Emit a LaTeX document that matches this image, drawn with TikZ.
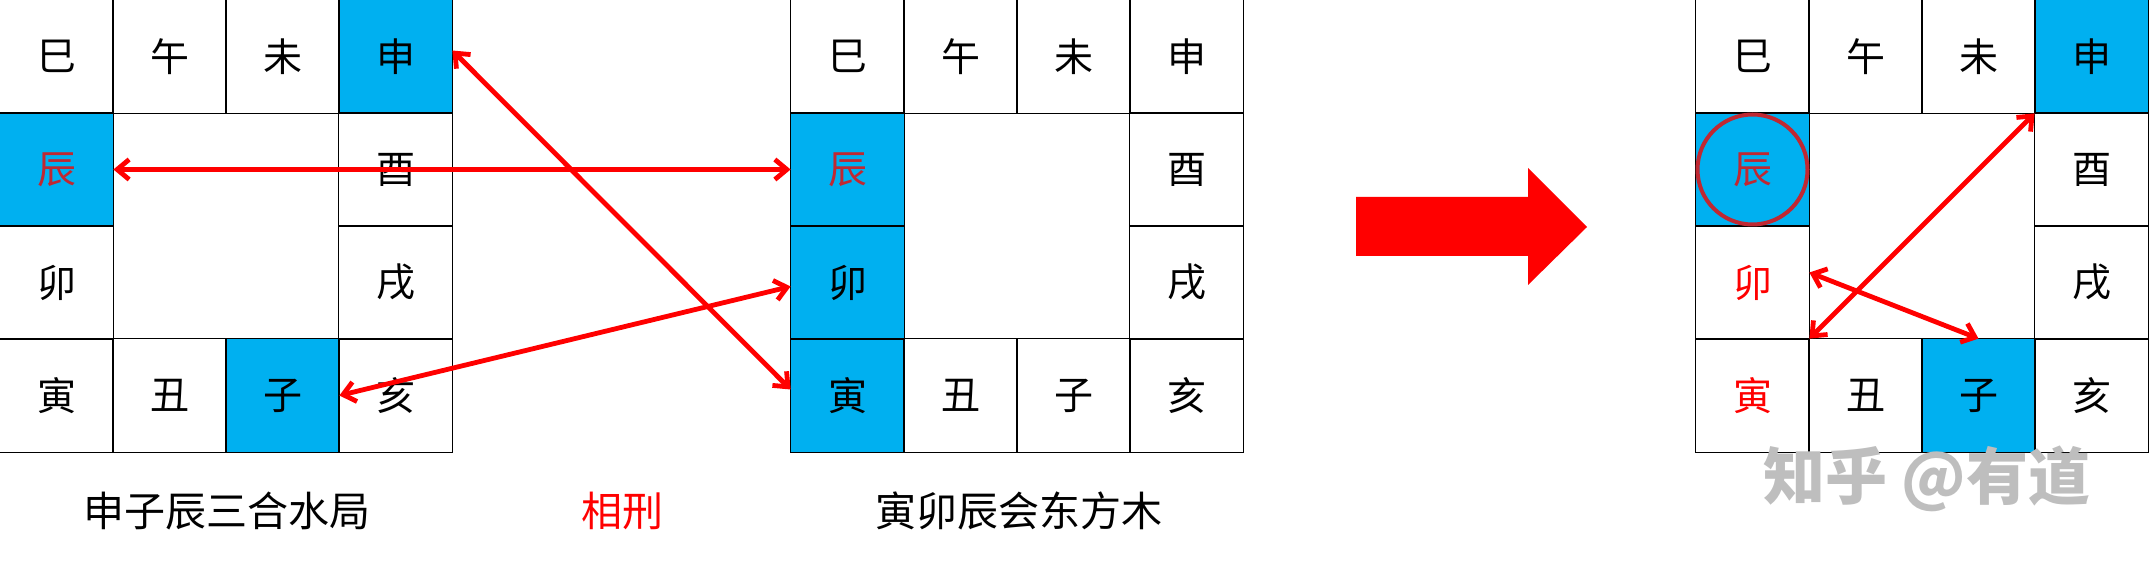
\documentclass[tikz,border=0pt]{standalone}
\usepackage{fontspec}
\setmainfont{Noto Sans CJK SC}
\usetikzlibrary{arrows.meta}
\definecolor{palaceblue}{RGB}{0,176,240}
\definecolor{chenred}{RGB}{192,40,50}
\definecolor{markgray}{RGB}{190,190,190}
\tikzset{>={Straight Barb[length=6pt,width=10pt]}}
\tikzset{
  cell/.style={minimum size=56.5pt,inner sep=0pt,font=\fontsize{19.5}{19.5}\selectfont},
  lit/.style={fill=palaceblue},
  xing/.style={<->,red,line width=2.4pt},
  caption/.style={font=\fontsize{20.5}{20.5}\selectfont},
  % cells that are coloured, by grid
  a-shen/.style={lit}, a-chen/.style={lit,text=chenred}, a-zi/.style={lit},
  b-chen/.style={lit,text=chenred}, b-mao/.style={lit}, b-yin/.style={lit},
  c-shen/.style={lit}, c-chen/.style={lit,text=chenred}, c-zi/.style={lit},
  c-mao/.style={text=red}, c-yin/.style={text=red}
}
\begin{document}
\begin{tikzpicture}[x=0.5pt,y=-0.5pt]
\useasboundingbox (0,0) rectangle (2149,566);
% three boards of the twelve branches
\foreach \g/\x in {a/0,b/791,c/1696}{
  \foreach \c/\r/\t/\n in {0/0/巳/si,1/0/午/wu,2/0/未/wei,3/0/申/shen,3/1/酉/you,3/2/戌/xu,3/3/亥/hai,2/3/子/zi,1/3/丑/chou,0/3/寅/yin,0/2/卯/mao,0/1/辰/chen}
    \node[cell,\g-\n/.try] (\g-\n) at (\x+56.5+113*\c,56.5+113*\r) {\t};
}
\foreach \g in {a,b,c}
  \foreach \n in {si,wu,wei,shen,you,xu,hai,zi,chou,yin,mao,chen}
    \draw[line width=0.8pt] (\g-\n.south west) rectangle (\g-\n.north east);
% clashes
\draw[xing] ([yshift=3pt]a-shen.east) -- ([yshift=3pt]b-yin.west);
\draw[xing] (a-chen.east) -- (b-chen.west);
\draw[xing] (a-zi.east) -- ([yshift=-2pt]b-mao.west);
\draw[xing] ([yshift=5pt]c-mao.east) -- (c-zi.north);
\draw[xing] (c-yin.north east) -- (c-shen.south west);
\draw[chenred,line width=2pt] (c-chen) circle[radius=27.5pt];
% big arrow
\fill[red] (1356,197) -- (1528,197) -- (1528,168) -- (1587,227) -- (1528,285) -- (1528,256) -- (1356,256) -- cycle;
\node[caption] (he) at (227,511) {申子辰三合水局};
\node[caption,red] (xiangxing) at (622,511) {相刑};
\node[caption] (hui) at (1019,511) {寅卯辰会东方木};
\node[markgray,font=\bfseries\fontsize{31}{31}\selectfont] (mark) at (1927,479) {知乎 @有道};
\end{tikzpicture}
\end{document}
